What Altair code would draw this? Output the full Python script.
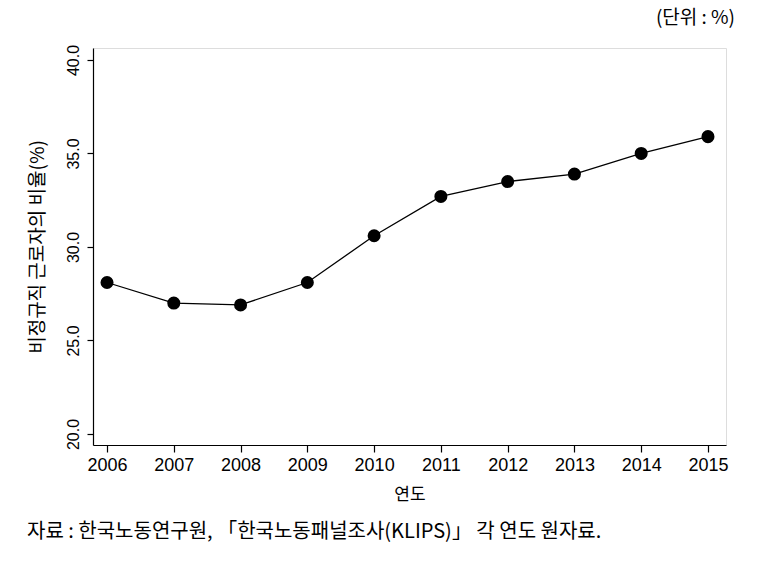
import altair as alt
import pandas as pd

years = [2006, 2007, 2008, 2009, 2010, 2011, 2012, 2013, 2014, 2015]
ratio = [28.1, 27.0, 26.9, 28.1, 30.6, 32.7, 33.5, 33.9, 35.0, 35.9]
y_ticks = [20, 25, 30, 35, 40]
x_title = "연도"
y_title = "비정규직 근로자의 비율(%)"
unit_text = "(단위 : %)"
source_text = "자료 : 한국노동연구원, 「한국노동패널조사(KLIPS)」 각 연도 원자료."

df = pd.DataFrame({"year": years, "ratio": ratio})

W, H = 633, 397

x_enc = alt.X("year:Q", scale=alt.Scale(domain=[2005.79, 2015.27], nice=False, zero=False),
              axis=alt.Axis(values=years, format="d", title=x_title, grid=False,
                            labelFont="Liberation Sans", labelFontSize=18, labelColor="black",
                            titleFont="Noto Sans CJK KR", titleFontSize=17, titleFontWeight="normal",
                            titleColor="black", tickSize=7, tickColor="black", domainColor="black",
                            labelPadding=4, titlePadding=12, domainWidth=1.2, tickWidth=1.2))
y_enc = alt.Y("ratio:Q", scale=alt.Scale(domain=[19.41, 40.64], nice=False, zero=False),
              axis=alt.Axis(values=y_ticks, format=".1f", title=y_title, grid=False,
                            labelAngle=270, labelAlign="center", labelBaseline="bottom",
                            labelFont="Liberation Sans", labelFontSize=16, labelColor="black",
                            titleFont="Noto Sans CJK KR", titleFontSize=19, titleFontWeight="normal",
                            titleColor="black", tickSize=6, tickColor="black", domainColor="black",
                            labelPadding=6, titlePadding=18, domainWidth=1.2, tickWidth=1.2))

line = alt.Chart(df).mark_line(color="black", strokeWidth=1.3).encode(x=x_enc, y=y_enc)
pts = alt.Chart(df).mark_circle(color="black", opacity=1, size=170).encode(x="year:Q", y="ratio:Q")

unit = alt.Chart(pd.DataFrame({"t": [unit_text]})).mark_text(
    font="Noto Sans CJK KR", fontSize=19, align="right", baseline="middle", color="black"
).encode(text="t:N", x=alt.value(735 - 93), y=alt.value(18 - 48))

src = alt.Chart(pd.DataFrame({"t": [source_text]})).mark_text(
    font="Noto Sans CJK KR", fontSize=20, align="left", baseline="middle", color="black"
).encode(text="t:N", x=alt.value(27 - 93), y=alt.value(532 - 48))

chart = alt.layer(line, pts, unit, src).properties(
    width=W, height=H,
    autosize=alt.AutoSizeParams(type="none"),
    padding={"left": 93, "top": 48, "right": 772 - 93 - W, "bottom": 564 - 48 - H},
).configure_view(stroke=None).configure(background="white")

chart.save("out.html", embed_options={"renderer": "svg", "actions": False})
